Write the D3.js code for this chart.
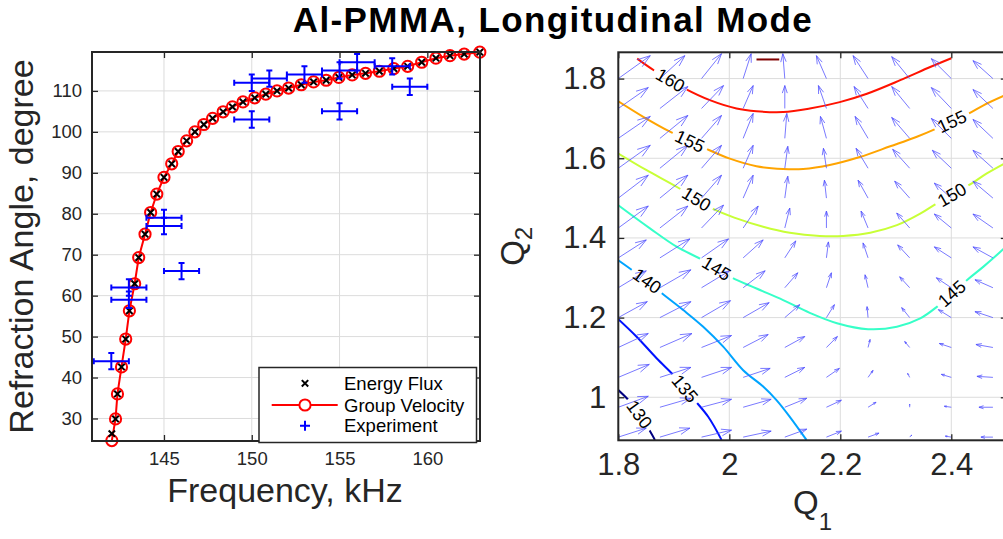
<!DOCTYPE html>
<html>
<head>
<meta charset="utf-8">
<script src="https://cdn.jsdelivr.net/npm/d3@7"></script>
<style>
  body { margin: 0; background: #fff; }
  svg { display: block; font-family: "Liberation Sans", Arial, Helvetica, sans-serif; }
</style>
</head>
<body>
<svg id="fig" width="1003" height="539"></svg>
<script>
// ---------------- left panel data ----------------
const gvFreq = [142.03, 142.24, 142.35, 142.58, 142.82, 143.03, 143.33, 143.56, 143.92, 144.24,
  144.59, 145.0, 145.44, 145.81, 146.29, 146.76, 147.27, 147.77, 148.37, 148.9,
  149.5, 150.17, 150.8, 151.44, 152.1, 152.82, 153.52, 154.24, 154.96, 155.72,
  156.48, 157.27, 158.09, 158.88, 159.68, 160.49, 161.29, 162.1, 162.99];
const gvAngle = [24.6, 29.9, 36.0, 42.6, 49.4, 56.3, 62.9, 69.3, 75.0, 80.3,
  84.8, 88.9, 92.2, 95.2, 97.8, 100.0, 101.8, 103.3, 104.9, 106.1,
  107.3, 108.3, 109.2, 110.0, 110.7, 111.5, 112.2, 112.6, 113.3, 113.9,
  114.3, 114.8, 115.45, 116.0, 117.0, 118.0, 118.6, 119.0, 119.46];
// energy flux coincides with group velocity except the lowest point
const efFreq = gvFreq.slice();
const efAngle = [26.3].concat(gvAngle.slice(1));

const expFreq = [142, 143, 143, 145, 145, 146, 150, 150, 151, 153, 155, 155, 156, 158, 159];
const expAngle = [44, 62, 59, 79, 77, 66, 112, 103, 113, 114, 115, 105, 117, 116, 111];
const expFreqErr = [1, 1, 1, 1, 1, 1, 1, 1, 1, 1, 1, 1, 1, 1, 1];
const expAngleErr = [2, 2, 2, 2, 2, 2, 2, 2, 2, 2, 2, 2, 2, 2, 2];

const freqTicks = [145, 150, 155, 160];
const angleTicks = [30, 40, 50, 60, 70, 80, 90, 100, 110];
const legendNames = ["Energy Flux", "Group Velocity", "Experiment"];

// ---------------- right panel data ----------------
const q1Grid = [1.8, 1.875, 1.95, 2.025, 2.1, 2.175, 2.25, 2.325, 2.4, 2.475];
const q2Grid = [0.9, 0.975, 1.05, 1.125, 1.2, 1.275, 1.35, 1.425, 1.5, 1.575, 1.65, 1.725, 1.8];
// gradient components (rows = q2Grid, cols = q1Grid)
const gradQ1 = [
  [28, 30, 30, 28, 22, 15, 11, 2, -6, -12],
  [30, 31, 30, 28, 22, 15, 8, 0, -7, -14],
  [31, 31, 30, 27, 20, 13, 5, -2, -10, -16],
  [30, 32, 30, 25, 20, 11, 2, -5, -12, -17],
  [29, 31, 29, 26, 15, 8, -1, -8, -13, -18],
  [28, 31, 28, 22, 13, 5, -3, -10, -15, -18],
  [28, 30, 27, 20, 11, 2, -5, -12, -17, -20],
  [30, 28, 22, 15, 5, 0, -7, -13, -17, -20],
  [30, 28, 20, 10, 3, -2, -10, -15, -17, -20],
  [32, 28, 20, 10, 3, -3, -12, -17, -19, -20],
  [32, 28, 20, 10, 2, -6, -13, -18, -20, -20],
  [30, 28, 22, 10, 0, -8, -14, -18, -20, -20],
  [32, 25, 20, 8, -2, -10, -15, -18, -20, -20]];
const gradQ2 = [
  [9, 9, 7, 6, 8, 6, 4, 2, 1, 0],
  [11, 9, 8, 8, 9, 7, 5, 3, 1, 0],
  [13, 10, 10, 9, 10, 9, 7, 4, 3, 1],
  [14, 14, 12, 13, 11, 11, 8, 6, 4, 3],
  [16, 16, 17, 15, 13, 13, 11, 10, 8, 6],
  [17, 18, 17, 17, 15, 15, 13, 11, 10, 8],
  [18, 19, 19, 18, 17, 16, 15, 13, 11, 11],
  [22, 22, 23, 22, 20, 17, 17, 15, 14, 14],
  [23, 23, 23, 23, 22, 18, 18, 17, 15, 17],
  [23, 23, 23, 23, 22, 20, 20, 19, 18, 18],
  [22, 23, 23, 25, 25, 22, 22, 21, 20, 19],
  [21, 22, 23, 23, 23, 23, 22, 22, 21, 19],
  [23, 23, 25, 25, 25, 23, 23, 22, 20, 18]];

const c130 = [[1.8, 1.018], [1.821, 0.989], [1.838, 0.957], [1.854, 0.922], [1.866, 0.893]];
const c135 = [[1.8, 1.196], [1.833, 1.152], [1.869, 1.098], [1.902, 1.052], [1.935, 0.997], [1.962, 0.951], [1.986, 0.893]];
const c140 = [[1.8, 1.344], [1.827, 1.317], [1.852, 1.292], [1.875, 1.265], [1.917, 1.219], [1.953, 1.177], [1.989, 1.127],
  [2.025, 1.068], [2.061, 1.027], [2.085, 0.993], [2.109, 0.951], [2.139, 0.893]];
const c145 = [[1.8, 1.482], [1.857, 1.424], [1.905, 1.378], [1.95, 1.346], [2.004, 1.301], [2.049, 1.273], [2.097, 1.244],
  [2.145, 1.212], [2.194, 1.186], [2.25, 1.171], [2.302, 1.177], [2.344, 1.198], [2.374, 1.227], [2.428, 1.294],
  [2.458, 1.328], [2.482, 1.357], [2.5, 1.38]];
const c150 = [[1.8, 1.612], [1.851, 1.57], [1.908, 1.526], [1.969, 1.474], [2.013, 1.449], [2.061, 1.428], [2.109, 1.413],
  [2.163, 1.405], [2.205, 1.405], [2.254, 1.413], [2.302, 1.432], [2.344, 1.461], [2.374, 1.487], [2.437, 1.537],
  [2.464, 1.562], [2.5, 1.59]];
const c155 = [[1.8, 1.743], [1.845, 1.704], [1.894, 1.666], [1.958, 1.624], [2.001, 1.599], [2.049, 1.58], [2.097, 1.573],
  [2.133, 1.573], [2.181, 1.583], [2.235, 1.603], [2.29, 1.63], [2.338, 1.654], [2.374, 1.675], [2.431, 1.712],
  [2.458, 1.733], [2.5, 1.76]];
const c160 = [[1.834, 1.85], [1.866, 1.819], [1.92, 1.775], [1.965, 1.746], [2.013, 1.725], [2.049, 1.718], [2.097, 1.716],
  [2.145, 1.725], [2.199, 1.741], [2.248, 1.762], [2.308, 1.796], [2.362, 1.829], [2.4, 1.851]];
const c165 = [[2.049, 1.848], [2.09, 1.848]];
const contourLevels = [130, 135, 140, 145, 150, 155, 160, 165];
const contourLines = [c130, c135, c140, c145, c150, c155, c160, c165];

const labelLevels = [160, 155, 155, 150, 150, 145, 145, 140, 135, 130];
const labelQ1 = [1.894, 1.929, 2.401, 1.941, 2.401, 1.977, 2.401, 1.852, 1.92, 1.838];

const q1Ticks = [1.8, 2, 2.2, 2.4];
const q2Ticks = [1, 1.2, 1.4, 1.6, 1.8];

// ---------------- common ----------------
const svg = d3.select("#fig");
const axisColor = "#262626";
const gridColor = "#dcdcdc";

function jet(t) {
  const c = v => Math.round(255 * Math.max(0, Math.min(1, v)));
  return `rgb(${c(1.5 - Math.abs(4 * t - 3))},${c(1.5 - Math.abs(4 * t - 2))},${c(1.5 - Math.abs(4 * t - 1))})`;
}

function drawGrid(g, box, x, y, xt, yt) {
  g.append("g").selectAll("line").data(xt).join("line")
    .attr("x1", d => x(d)).attr("x2", d => x(d))
    .attr("y1", box.top).attr("y2", box.bottom)
    .attr("stroke", gridColor).attr("stroke-width", 1);
  g.append("g").selectAll("line").data(yt).join("line")
    .attr("y1", d => y(d)).attr("y2", d => y(d))
    .attr("x1", box.left).attr("x2", box.right)
    .attr("stroke", gridColor).attr("stroke-width", 1);
}

function drawAxes(g, box, x, y, xt, yt, fs, fmt, pad) {
  const ax = [
    [d3.axisBottom(x), box.bottom, "x", true],
    [d3.axisTop(x), box.top, "x", false],
    [d3.axisLeft(y), box.left, "y", true],
    [d3.axisRight(y), box.right, "y", false]
  ];
  ax.forEach(([a, pos, dir, labels]) => {
    a.tickValues(dir === "x" ? xt : yt).tickSizeInner(-6).tickSizeOuter(0)
      .tickPadding(dir === "x" ? pad[0] : pad[1])
      .tickFormat(labels ? fmt : "");
    const gg = g.append("g")
      .attr("transform", dir === "x" ? `translate(0,${pos})` : `translate(${pos},0)`)
      .call(a);
    gg.select(".domain").remove();
    gg.selectAll(".tick line").attr("stroke", axisColor).attr("stroke-width", 1.3);
    gg.selectAll(".tick text").attr("fill", axisColor).style("font-size", fs + "px")
      .style("font-family", "'Liberation Sans', Arial, sans-serif");
  });
  g.append("rect")
    .attr("x", box.left).attr("y", box.top)
    .attr("width", box.right - box.left).attr("height", box.bottom - box.top)
    .attr("fill", "none").attr("stroke", axisColor).attr("stroke-width", 2);
}

// ---------------- title ----------------
svg.append("text")
  .attr("x", 553).attr("y", 32)
  .attr("text-anchor", "middle")
  .style("font-size", "35px").style("font-weight", "bold")
  .style("letter-spacing", "1.4px")
  .attr("fill", "#000")
  .text("Al-PMMA, Longitudinal Mode");

// ---------------- left panel ----------------
const L = {left: 92, top: 52, right: 480, bottom: 441};
const xL = d3.scaleLinear().domain([140.9, 163]).range([L.left, L.right]);
const yL = d3.scaleLinear().domain([24.5, 119.5]).range([L.bottom, L.top]);
const gL = svg.append("g");

drawGrid(gL, L, xL, yL, freqTicks, angleTicks);

svg.append("clipPath").attr("id", "clipL").append("rect")
  .attr("x", L.left - 8).attr("y", L.top - 8)
  .attr("width", L.right - L.left + 16).attr("height", L.bottom - L.top + 16);
const dataL = gL.append("g").attr("clip-path", "url(#clipL)");

const gvData = gvFreq.map((f, i) => [f, gvAngle[i]]);
const efData = efFreq.map((f, i) => [f, efAngle[i]]);
const expData = expFreq.map((f, i) => ({f, a: expAngle[i], fe: expFreqErr[i], ae: expAngleErr[i]}));

dataL.append("path").datum(gvData)
  .attr("fill", "none").attr("stroke", "#ff0000").attr("stroke-width", 2)
  .attr("d", d3.line().x(d => xL(d[0])).y(d => yL(d[1])));
dataL.append("g").selectAll("circle").data(gvData).join("circle")
  .attr("cx", d => xL(d[0])).attr("cy", d => yL(d[1])).attr("r", 5.6)
  .attr("fill", "none").attr("stroke", "#ff0000").attr("stroke-width", 2);
const xMark = "M-3.2,-3.2L3.2,3.2M-3.2,3.2L3.2,-3.2";
dataL.append("g").selectAll("path").data(efData).join("path")
  .attr("transform", d => `translate(${xL(d[0])},${yL(d[1])})`)
  .attr("d", xMark).attr("stroke", "#000").attr("stroke-width", 2);

const eb = dataL.append("g").attr("stroke", "#0000ff").attr("stroke-width", 2).attr("fill", "none");
const cap = 3;
eb.selectAll("path").data(expData).join("path")
  .attr("d", d => {
    const cx = xL(d.f), cy = yL(d.a);
    const x0 = xL(d.f - d.fe), x1 = xL(d.f + d.fe);
    const y0 = yL(d.a - d.ae), y1 = yL(d.a + d.ae);
    return `M${cx},${y0}V${y1}M${cx - cap},${y0}H${cx + cap}M${cx - cap},${y1}H${cx + cap}` +
      `M${x0},${cy}H${x1}M${x0},${cy - cap}V${cy + cap}M${x1},${cy - cap}V${cy + cap}`;
  });

drawAxes(gL, L, xL, yL, freqTicks, angleTicks, 18.5, d3.format("d"), [11, 10]);

svg.append("text")
  .attr("x", (L.left + L.right) / 2 - 1).attr("y", 502)
  .attr("text-anchor", "middle").attr("fill", axisColor)
  .style("font-size", "34px").text("Frequency, kHz");
svg.append("text")
  .attr("transform", `translate(33,${(L.top + L.bottom) / 2}) rotate(-90)`)
  .attr("text-anchor", "middle").attr("fill", axisColor)
  .style("font-size", "34px").text("Refraction Angle, degree");

// legend
const lg = svg.append("g");
lg.append("rect").attr("x", 259).attr("y", 367.5).attr("width", 217.5).attr("height", 75)
  .attr("fill", "#fff").attr("stroke", axisColor).attr("stroke-width", 1.5);
const rowY = [383.3, 405, 425.7];
lg.selectAll("text").data(legendNames).join("text")
  .attr("x", 344).attr("y", (d, i) => rowY[i] + 6.5)
  .attr("fill", "#000").style("font-size", "18.5px").text(d => d);
lg.append("path").attr("transform", `translate(305,${rowY[0]})`)
  .attr("d", xMark).attr("stroke", "#000").attr("stroke-width", 2);
lg.append("line").attr("x1", 271.7).attr("x2", 337.7).attr("y1", rowY[1]).attr("y2", rowY[1])
  .attr("stroke", "#ff0000").attr("stroke-width", 2);
lg.append("circle").attr("cx", 305).attr("cy", rowY[1]).attr("r", 5.6)
  .attr("fill", "#fff").attr("stroke", "#ff0000").attr("stroke-width", 2);
lg.append("path").attr("transform", `translate(305,${rowY[2]})`)
  .attr("d", "M-5,0H5M0,-5V5").attr("stroke", "#0000ff").attr("stroke-width", 2);

// ---------------- right panel ----------------
const R = {left: 618.3, top: 52.3, right: 1006.8, bottom: 440.3};
const xR = d3.scaleLinear().domain([1.8, 2.5]).range([R.left, R.right]);
const yR = d3.scaleLinear().domain([0.892, 1.866]).range([R.bottom, R.top]);
const gR = svg.append("g");

drawGrid(gR, R, xR, yR, q1Ticks, q2Ticks);

svg.append("clipPath").attr("id", "clipR").append("rect")
  .attr("x", R.left).attr("y", R.top)
  .attr("width", R.right - R.left).attr("height", R.bottom - R.top);
const dataR = gR.append("g").attr("clip-path", "url(#clipR)");

// label positions on the contour lines
const labelFs = 18;
const labels = labelLevels.map((lev, i) => {
  const pts = contourLines[contourLevels.indexOf(lev)];
  const q = labelQ1[i];
  for (let k = 0; k < pts.length - 1; k++) {
    const a = pts[k], b = pts[k + 1];
    if ((q - a[0]) * (q - b[0]) <= 0) {
      const t = (q - a[0]) / (b[0] - a[0]);
      const q2 = a[1] + t * (b[1] - a[1]);
      let ang = Math.atan2(yR(b[1]) - yR(a[1]), xR(b[0]) - xR(a[0])) * 180 / Math.PI;
      if (ang > 90) ang -= 180;
      if (ang < -90) ang += 180;
      return {lev, px: xR(q), py: yR(q2), ang};
    }
  }
});

// gap mask under each label
const mask = svg.append("mask").attr("id", "gapMask").attr("maskUnits", "userSpaceOnUse")
  .attr("x", 0).attr("y", 0).attr("width", 1003).attr("height", 539);
mask.append("rect").attr("x", 0).attr("y", 0).attr("width", 1003).attr("height", 539).attr("fill", "#fff");

const contourG = dataR.append("g").attr("mask", "url(#gapMask)");
const cLine = d3.line().x(d => xR(d[0])).y(d => yR(d[1])).curve(d3.curveCatmullRom);
contourG.selectAll("path").data(contourLines).join("path")
  .attr("d", cLine).attr("fill", "none")
  .attr("stroke", (d, i) => jet(i / (contourLevels.length - 1)))
  .attr("stroke-width", 2);

// quiver
const arrowScale = [0.0018, 0.0025];
const arrows = [];
q2Grid.forEach((q2, r) => q1Grid.forEach((q1, c) => {
  arrows.push({q1, q2, u: gradQ1[r][c] * arrowScale[0], v: gradQ2[r][c] * arrowScale[1]});
}));
dataR.append("g").attr("stroke", "#4f4fff").attr("stroke-opacity", 0.85)
  .attr("stroke-width", 0.9).attr("fill", "none")
  .selectAll("path").data(arrows).join("path")
  .attr("d", d => {
    const x0 = xR(d.q1), y0 = yR(d.q2);
    const x1 = xR(d.q1 + d.u), y1 = yR(d.q2 + d.v);
    const sx = x1 - x0, sy = y1 - y0, a = 0.33, b = 0.33;
    return `M${x0},${y0}L${x1},${y1}` +
      `M${x1 - a * (sx + b * sy)},${y1 - a * (sy - b * sx)}L${x1},${y1}` +
      `L${x1 - a * (sx - b * sy)},${y1 - a * (sy + b * sx)}`;
  });

// labels
const labelG = gR.append("g");
labels.forEach(l => {
  const t = labelG.append("text")
    .attr("transform", `translate(${l.px},${l.py}) rotate(${l.ang})`)
    .attr("text-anchor", "middle").attr("dy", "0.35em")
    .attr("fill", "#000").style("font-size", labelFs + "px")
    .text(l.lev);
  const w = t.node().getComputedTextLength() + 8;
  mask.append("rect")
    .attr("transform", `translate(${l.px},${l.py}) rotate(${l.ang})`)
    .attr("x", -w / 2).attr("y", -labelFs * 0.5)
    .attr("width", w).attr("height", labelFs)
    .attr("fill", "#000");
});

drawAxes(gR, R, xR, yR, q1Ticks, q2Ticks, 31, d3.format("~g"), [13, 12]);

const q1Label = svg.append("text")
  .attr("x", (R.left + R.right) / 2).attr("y", 514)
  .attr("text-anchor", "middle").attr("fill", axisColor).style("font-size", "33px");
q1Label.append("tspan").text("Q");
q1Label.append("tspan").attr("dy", 16).style("font-size", "24px").text("1");

const q2Label = svg.append("text")
  .attr("transform", `translate(524,${(R.top + R.bottom) / 2}) rotate(-90)`)
  .attr("text-anchor", "middle").attr("fill", axisColor).style("font-size", "33px");
q2Label.append("tspan").text("Q");
q2Label.append("tspan").attr("dy", 8).style("font-size", "24px").text("2");
</script>
</body>
</html>
